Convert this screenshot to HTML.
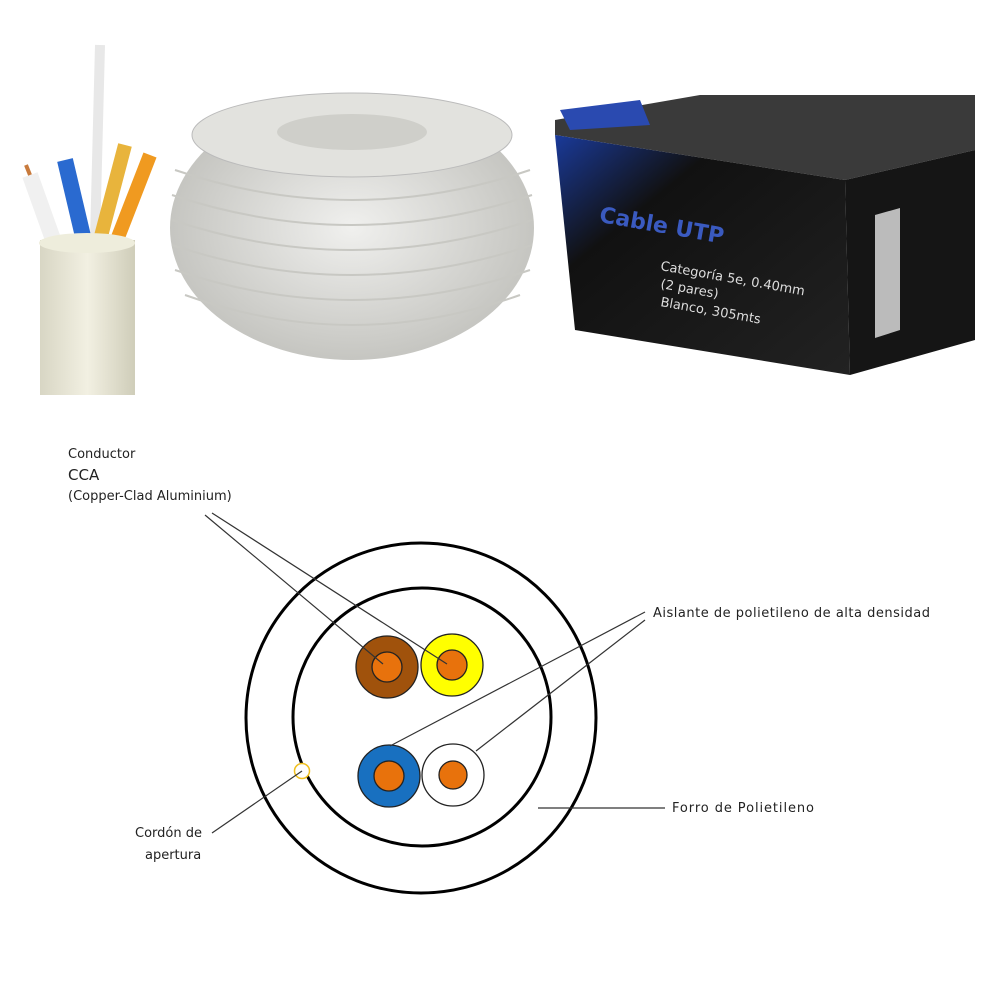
<!DOCTYPE html>
<html><head><meta charset="utf-8"><style>
html,body{margin:0;padding:0;background:#fff;}
svg{display:block}
text{font-family:"DejaVu Sans","Liberation Sans",sans-serif;fill:#222}
</style></head><body>
<svg width="1000" height="1000" viewBox="0 0 1000 1000" xmlns="http://www.w3.org/2000/svg">
<defs>
<linearGradient id="jk" x1="0" x2="1"><stop offset="0" stop-color="#d8d6c4"/><stop offset=".5" stop-color="#f2f0e2"/><stop offset="1" stop-color="#cfcdb9"/></linearGradient>
<radialGradient id="coil" cx=".5" cy=".5" r=".6"><stop offset="0" stop-color="#f0f0ee"/><stop offset="1" stop-color="#bdbdb8"/></radialGradient>
<linearGradient id="box" x1="0" x2="1" y1="0" y2="1"><stop offset="0" stop-color="#1a3a9a"/><stop offset=".3" stop-color="#111"/><stop offset="1" stop-color="#222"/></linearGradient>
</defs>
<line x1="100" y1="45" x2="95" y2="240" stroke="#e8e8e8" stroke-width="10"/>
<line x1="30" y1="175" x2="55" y2="245" stroke="#f0f0f0" stroke-width="16"/>
<line x1="30" y1="175" x2="26" y2="165" stroke="#c87a3c" stroke-width="4"/>
<line x1="65" y1="160" x2="85" y2="245" stroke="#2a6ad0" stroke-width="16"/>
<line x1="125" y1="145" x2="100" y2="240" stroke="#e8b43c" stroke-width="14"/>
<line x1="150" y1="155" x2="115" y2="245" stroke="#f09a20" stroke-width="14"/>
<rect x="40" y="240" width="95" height="155" fill="url(#jk)"/>
<ellipse cx="87" cy="243" rx="48" ry="10" fill="#eeeddc"/>
<ellipse cx="352" cy="228" rx="182" ry="132" fill="url(#coil)"/>
<ellipse cx="352" cy="135" rx="160" ry="42" fill="#e2e2de" stroke="#bbb"/>
<ellipse cx="352" cy="132" rx="75" ry="18" fill="#cfcfca"/>
<g stroke="#c8c8c3" stroke-width="2" fill="none">
<path d="M175 170 Q352 230 530 170"/><path d="M172 195 Q352 255 532 195"/><path d="M172 220 Q352 280 532 220"/><path d="M172 245 Q352 305 532 245"/><path d="M175 270 Q352 330 530 270"/><path d="M185 295 Q352 355 520 295"/>
</g>
<polygon points="555,120 700,95 975,95 975,150 845,180 555,135" fill="#3a3a3a"/>
<polygon points="560,110 640,100 650,125 570,130" fill="#2a4ab0"/>
<polygon points="555,135 845,180 850,375 575,330" fill="url(#box)"/>
<polygon points="845,180 975,150 975,340 850,375" fill="#151515"/>
<polygon points="875,215 900,208 900,330 875,338" fill="#bbb"/>
<text x="598" y="222" font-size="22" font-weight="bold" style="fill:#3a5ac0" transform="rotate(10 600 225)">Cable UTP</text>
<text x="660" y="270" font-size="13" style="fill:#ddd" transform="rotate(10 660 270)">Categoría 5e, 0.40mm</text>
<text x="660" y="288" font-size="13" style="fill:#ddd" transform="rotate(10 660 288)">(2 pares)</text>
<text x="660" y="306" font-size="13" style="fill:#ddd" transform="rotate(10 660 306)">Blanco, 305mts</text>
<g fill="none" stroke="#000" stroke-width="3">
<circle cx="421" cy="718" r="175"/>
<circle cx="422" cy="717" r="129"/>
</g>
<g stroke="#222" stroke-width="1.3">
<circle cx="387" cy="667" r="31" fill="#a0520c"/><circle cx="387" cy="667" r="15" fill="#e8720c"/>
<circle cx="452" cy="665" r="31" fill="#ffff00"/><circle cx="452" cy="665" r="15" fill="#e8720c"/>
<circle cx="389" cy="776" r="31" fill="#1870c0"/><circle cx="389" cy="776" r="15" fill="#e8720c"/>
<circle cx="453" cy="775" r="31" fill="#fff"/><circle cx="453" cy="775" r="14" fill="#e8720c"/>
</g>
<circle cx="302" cy="771" r="7.5" fill="#fff" stroke="#f0c020" stroke-width="1.5"/>
<g stroke="#333" stroke-width="1.2">
<line x1="205" y1="515" x2="383" y2="664"/>
<line x1="212" y1="513" x2="447" y2="664"/>
<line x1="645" y1="612" x2="390" y2="746"/>
<line x1="645" y1="620" x2="476" y2="751"/>
<line x1="302" y1="771" x2="212" y2="833"/>
<line x1="538" y1="808" x2="665" y2="808"/>
</g>
<text x="68" y="458" font-size="13">Conductor</text>
<text x="68" y="480" font-size="15">CCA</text>
<text x="68" y="500" font-size="13">(Copper-Clad Aluminium)</text>
<text x="653" y="617" font-size="13" textLength="277">Aislante de polietileno de alta densidad</text>
<text x="672" y="812" font-size="13" textLength="142">Forro de Polietileno</text>
<text x="135" y="837" font-size="13">Cordón de</text>
<text x="145" y="859" font-size="13">apertura</text>
</svg>
</body></html>
